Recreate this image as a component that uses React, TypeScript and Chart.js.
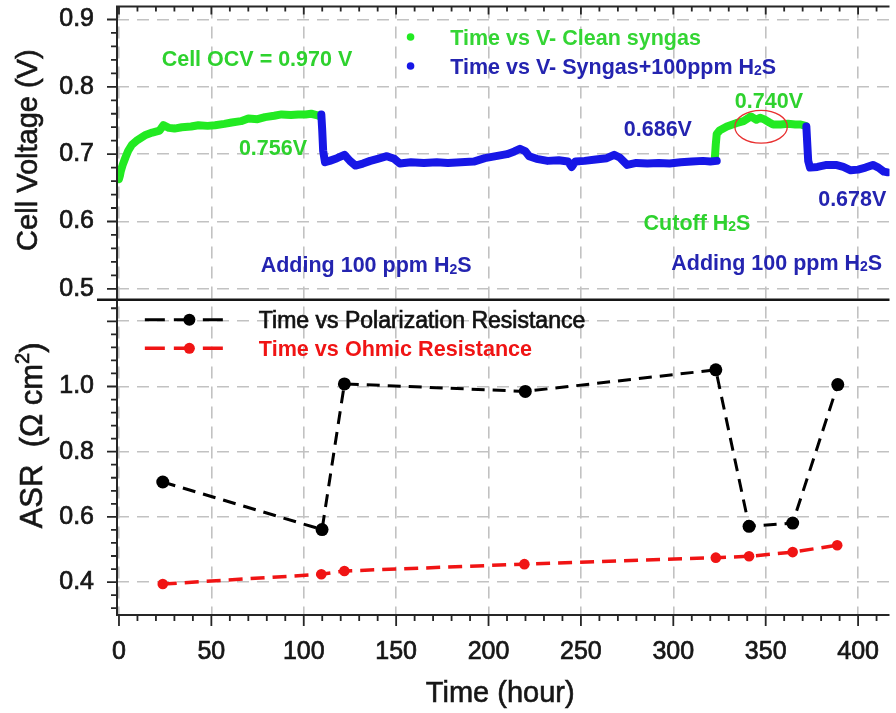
import React, { useEffect, useRef } from 'react';
import { Chart, registerables } from 'chart.js';

Chart.register(...registerables);

// ---------------- data ----------------
// Cell voltage, clean syngas (first period)
const cleanT1 = [0, 0.5, 1, 2, 3.5, 5, 7, 10, 14, 18, 22, 24, 27, 30, 34, 39, 43, 48, 52, 57, 61, 66, 70, 75, 79, 84, 88, 93, 97, 101, 104, 107, 109];
const cleanV1 = [0.663, 0.668, 0.675, 0.684, 0.695, 0.705, 0.714, 0.721, 0.728, 0.732, 0.735, 0.743, 0.739, 0.738, 0.740, 0.741, 0.743, 0.742, 0.743, 0.745, 0.747, 0.749, 0.753, 0.752, 0.755, 0.757, 0.759, 0.758, 0.759, 0.759, 0.760, 0.758, 0.756];
// Cell voltage, syngas + 100 ppm H2S (first period)
const blueT1 = [109.5, 110, 110.5, 111.5, 114, 118, 122, 125, 128, 132, 136, 140, 145, 149, 152, 158, 165, 172, 178, 185, 192, 198, 204, 210, 214, 217, 220, 222, 226, 232, 238, 243, 245, 247, 252, 258, 264, 268, 271, 275, 280, 286, 292, 298, 304, 310, 316, 320, 323.5];
const blueV1 = [0.759, 0.735, 0.705, 0.688, 0.690, 0.694, 0.699, 0.690, 0.683, 0.686, 0.690, 0.693, 0.697, 0.693, 0.686, 0.688, 0.687, 0.688, 0.687, 0.688, 0.689, 0.694, 0.697, 0.700, 0.704, 0.708, 0.704, 0.697, 0.693, 0.690, 0.691, 0.689, 0.681, 0.689, 0.690, 0.692, 0.694, 0.699, 0.695, 0.684, 0.687, 0.686, 0.687, 0.686, 0.688, 0.689, 0.690, 0.689, 0.690];
// Cell voltage, clean syngas (after H2S cut-off)
const cleanT2 = [322.5, 323, 323.5, 325, 329, 334, 338, 342, 345, 347, 349, 352, 354, 358, 362, 366, 369, 371.5];
const cleanV2 = [0.695, 0.715, 0.730, 0.735, 0.741, 0.746, 0.749, 0.756, 0.751, 0.754, 0.752, 0.747, 0.744, 0.744, 0.745, 0.744, 0.744, 0.742];
// Cell voltage, syngas + 100 ppm H2S (second period)
const blueT2 = [372, 372.5, 373, 374, 378, 383, 388, 392, 396, 400, 404, 408, 411, 414, 416];
const blueV2 = [0.741, 0.715, 0.690, 0.680, 0.681, 0.684, 0.684, 0.681, 0.676, 0.677, 0.680, 0.684, 0.680, 0.674, 0.673];

// ASR
const polT = [23.7, 109.9, 122, 219.9, 323, 341, 364.6, 389];
const polR = [0.707, 0.561, 1.008, 0.985, 1.051, 0.571, 0.581, 1.006];
const ohmT = [23.7, 109.5, 122, 219.4, 323, 341, 364.6, 388.7];
const ohmR = [0.394, 0.424, 0.434, 0.455, 0.475, 0.479, 0.492, 0.513];

// ticks
const xTicks = [0, 50, 100, 150, 200, 250, 300, 350, 400];
const vTicks = [0.5, 0.6, 0.7, 0.8, 0.9];
const asrTicks = [0.4, 0.6, 0.8, 1.0, 1.2];
const asrLabelled = ['0.4', '0.6', '0.8', '1.0'];

// ---------------- style ----------------
const FONT = '"Liberation Sans", Arial, Helvetica, sans-serif';
const GREEN_LINE = '#22ea22';
const BLUE_LINE = '#1717e6';
const GREEN_TXT = '#2ed22e';
const BLUE_TXT = '#2424b0';
const RED = '#f01414';
const AXIS = '#262626';
const GRID = '#c2c2c2';
const INK = '#161616';

// annotation anchors (data coordinates of the left / vertical centre of each text)
const NOTES = [
  { t: 23.1, v: 0.843, text: 'Cell OCV = 0.970 V', color: GREEN_TXT },
  { t: 64.9, v: 0.7104, text: '0.756V', color: GREEN_TXT },
  { t: 273.2, v: 0.7385, text: '0.686V', color: BLUE_TXT },
  { t: 333.3, v: 0.7793, text: '0.740V', color: GREEN_TXT },
  { t: 378.4, v: 0.634, text: '0.678V', color: BLUE_TXT },
  { t: 283.9, v: 0.5993, text: 'Cutoff H_{2}S', color: GREEN_TXT },
  { t: 298.9, v: 0.54, text: 'Adding 100 ppm H_{2}S', color: BLUE_TXT },
  { t: 76.7, v: 0.536, text: 'Adding 100 ppm H_{2}S', color: BLUE_TXT },
];

type Seg = { text: string; kind: 'n' | 'sub' | 'sup' };
function parseRich(s: string): Seg[] {
  const out: Seg[] = [];
  const re = /([_^])\{([^}]*)\}/g;
  let last = 0;
  let m: RegExpExecArray | null;
  while ((m = re.exec(s))) {
    if (m.index > last) out.push({ text: s.slice(last, m.index), kind: 'n' });
    out.push({ text: m[2], kind: m[1] === '_' ? 'sub' : 'sup' });
    last = re.lastIndex;
  }
  if (last < s.length) out.push({ text: s.slice(last), kind: 'n' });
  return out;
}

function drawRich(
  ctx: CanvasRenderingContext2D,
  s: string,
  x: number,
  y: number,
  size: number,
  weight: string,
  color: string,
  align: 'left' | 'center' = 'left',
  stroke = 0
) {
  const segs = parseRich(s);
  const f = (k: Seg['kind']) => `${weight} ${k === 'n' ? size : Math.round(size * 0.64)}px ${FONT}`;
  let w = 0;
  for (const g of segs) {
    ctx.font = f(g.kind);
    w += ctx.measureText(g.text).width;
  }
  let cx = align === 'center' ? x - w / 2 : x;
  ctx.fillStyle = color;
  ctx.strokeStyle = color;
  ctx.lineWidth = stroke;
  ctx.textAlign = 'left';
  ctx.textBaseline = 'alphabetic';
  for (const g of segs) {
    ctx.font = f(g.kind);
    const dy = g.kind === 'sub' ? size * 0.06 : g.kind === 'sup' ? -size * 0.42 : 0;
    ctx.fillText(g.text, cx, y + dy);
    if (stroke > 0) ctx.strokeText(g.text, cx, y + dy);
    cx += ctx.measureText(g.text).width;
  }
}

const decor = {
  id: 'decor',
  afterDraw(chart: any) {
    const ctx: CanvasRenderingContext2D = chart.ctx;
    const { left, right, top, bottom } = chart.chartArea;
    const xs = chart.scales.x;
    const yV = chart.scales.yV;
    const yA = chart.scales.yA;
    const px = (t: number) => xs.getPixelForValue(t);
    ctx.save();

    // frame
    ctx.strokeStyle = AXIS;
    ctx.lineWidth = 2;
    ctx.beginPath();
    ctx.moveTo(right, top);
    ctx.lineTo(left, top);
    ctx.lineTo(left, bottom);
    ctx.lineTo(right, bottom);
    ctx.stroke();
    // panel separator
    ctx.lineWidth = 2.6;
    ctx.strokeStyle = '#161616';
    ctx.beginPath();
    ctx.moveTo(left - 20, yV.bottom);
    ctx.lineTo(right, yV.bottom);
    ctx.stroke();

    // x ticks (bottom outward, top inward)
    ctx.strokeStyle = AXIS;
    ctx.lineWidth = 1.8;
    ctx.beginPath();
    for (let t = 0; t <= xs.max; t += 10) {
      const p = px(t);
      const major = t % 50 === 0;
      ctx.moveTo(p, bottom);
      ctx.lineTo(p, bottom + (major ? 11 : 6));
      ctx.moveTo(p, top);
      ctx.lineTo(p, top + (major ? 8 : 5));
    }
    // y ticks, voltage: every 0.02
    for (let k = 20; k <= 50; k++) {
      const v = k / 50;
      if (v < yV.min || v > yV.max) continue;
      const p = yV.getPixelForValue(v);
      ctx.moveTo(left, p);
      ctx.lineTo(left - (k % 5 === 0 ? 10 : 6), p);
    }
    // y ticks, ASR: every 0.04
    for (let k = 7; k <= 32; k++) {
      const v = k / 25;
      if (v < yA.min || v > yA.max) continue;
      const p = yA.getPixelForValue(v);
      ctx.moveTo(left, p);
      ctx.lineTo(left - (k % 5 === 0 ? 10 : 6), p);
    }
    ctx.stroke();

    // annotations
    const NS = 21.5;
    for (const n of NOTES) {
      drawRich(ctx, n.text, px(n.t), yV.getPixelForValue(n.v) + NS * 0.36, NS, 'bold', n.color);
    }

    // red ellipse
    ctx.strokeStyle = '#e83030';
    ctx.lineWidth = 1.3;
    ctx.beginPath();
    const ecx = px(347.5);
    const ecy = yV.getPixelForValue(0.7407);
    const erx = px(347.5 + 14.2) - ecx;
    const ery = yV.getPixelForValue(0.7407) - yV.getPixelForValue(0.7407 + 0.0244);
    ctx.ellipse(ecx, ecy, erx, ery, 0, 0, Math.PI * 2);
    ctx.stroke();

    // top legend
    const LS = 21.5;
    const legTop = [
      { v: 0.874, text: 'Time vs V- Clean syngas', dot: GREEN_LINE, color: '#34d534' },
      { v: 0.831, text: 'Time vs V- Syngas+100ppm H_{2}S', dot: BLUE_LINE, color: BLUE_TXT },
    ];
    for (const l of legTop) {
      const y = yV.getPixelForValue(l.v);
      ctx.fillStyle = l.dot;
      ctx.beginPath();
      ctx.arc(px(157.8), y, 3.8, 0, Math.PI * 2);
      ctx.fill();
      drawRich(ctx, l.text, px(179.3), y + LS * 0.36, LS, 'bold', l.color);
    }

    // bottom legend
    const legBot = [
      { a: 1.205, text: 'Time vs Polarization Resistance', color: '#000', txt: '#111', w: 'normal', size: 23, r: 6, lw: 3, st: 0.7 },
      { a: 1.117, text: 'Time vs Ohmic Resistance', color: RED, txt: RED, w: 'bold', size: 21.6, r: 5.5, lw: 3.5, st: 0 },
    ];
    for (const l of legBot) {
      const y = yA.getPixelForValue(l.a);
      ctx.strokeStyle = l.color;
      ctx.lineWidth = l.lw;
      ctx.setLineDash([20, 9]);
      ctx.beginPath();
      ctx.moveTo(px(14), y);
      ctx.lineTo(px(58.5), y);
      ctx.stroke();
      ctx.setLineDash([]);
      ctx.fillStyle = l.color;
      ctx.beginPath();
      ctx.arc(px(38.1), y, l.r, 0, Math.PI * 2);
      ctx.fill();
      drawRich(ctx, l.text, px(75.7), y + l.size * 0.36, l.size, l.w, l.txt, 'left', l.st);
    }

    // axis titles
    ctx.save();
    ctx.translate(37, (yV.top + yV.bottom) / 2 - 3);
    ctx.rotate(-Math.PI / 2);
    drawRich(ctx, 'Cell Voltage (V)', 0, 0, 29, 'normal', INK, 'center', 0.6);
    ctx.restore();
    ctx.save();
    ctx.translate(42, (yA.top + yA.bottom) / 2 - 22);
    ctx.rotate(-Math.PI / 2);
    drawRich(ctx, 'ASR  (Ω cm^{2})', 0, 0, 31, 'normal', INK, 'center', 0.6);
    ctx.restore();
    drawRich(ctx, 'Time (hour)', (left + right) / 2 - 3, 702, 29, 'normal', INK, 'center', 0.6);

    ctx.restore();
  },
};

export default function App() {
  const ref = useRef<HTMLCanvasElement>(null);
  useEffect(() => {
    const canvas = ref.current;
    if (!canvas) return;
    const pts = (xs: number[], ys: number[]) => xs.map((x, i) => ({ x, y: ys[i] }));
    const volt = (label: string, xs: number[], ys: number[], color: string) => ({
      label,
      data: pts(xs, ys),
      yAxisID: 'yV',
      borderColor: color,
      backgroundColor: color,
      borderWidth: 8,
      pointRadius: 0,
      tension: 0,
      borderCapStyle: 'round',
      borderJoinStyle: 'round',
      fill: false,
    });
    const tickFont = { family: FONT, size: 25 };
    const tickStyle = { font: tickFont, color: INK, textStrokeColor: INK, textStrokeWidth: 0.7, autoSkip: false };
    const noPad = (s: any) => {
      s.paddingTop = 0;
      s.paddingBottom = 0;
      s.paddingLeft = 0;
      s.paddingRight = 0;
    };
    const chart = new Chart(canvas, {
      type: 'line',
      data: {
        datasets: [
          volt('Time vs V- Syngas+100ppm H2S', blueT1, blueV1, BLUE_LINE),
          volt('Time vs V- Syngas+100ppm H2S (2)', blueT2, blueV2, BLUE_LINE),
          volt('Time vs V- Clean syngas', cleanT1, cleanV1, GREEN_LINE),
          volt('Time vs V- Clean syngas (2)', cleanT2, cleanV2, GREEN_LINE),
          {
            label: 'Time vs Polarization Resistance',
            data: pts(polT, polR),
            yAxisID: 'yA',
            borderColor: '#000',
            backgroundColor: '#000',
            borderWidth: 3,
            borderDash: [13, 8],
            pointRadius: 6.5,
            pointBorderWidth: 0,
            pointBackgroundColor: '#000',
            tension: 0,
            fill: false,
          },
          {
            label: 'Time vs Ohmic Resistance',
            data: pts(ohmT, ohmR),
            yAxisID: 'yA',
            borderColor: RED,
            backgroundColor: RED,
            borderWidth: 3.5,
            borderDash: [14, 8],
            pointRadius: 5.3,
            pointBorderWidth: 0,
            pointBackgroundColor: RED,
            tension: 0,
            fill: false,
          },
        ] as any,
      },
      options: {
        responsive: false,
        animation: false,
        devicePixelRatio: 1,
        events: [],
        layout: { padding: { top: 5, left: 0, right: 0, bottom: 0 } },
        plugins: { legend: { display: false }, tooltip: { enabled: false } },
        scales: {
          x: {
            type: 'linear',
            min: -1.07,
            max: 417,
            afterBuildTicks: (s: any) => {
              s.ticks = xTicks.map((value) => ({ value }));
            },
            afterFit: (s: any) => {
              s.height = 98;
              noPad(s);
            },
            grid: { color: GRID, lineWidth: 1.6, drawTicks: false },
            border: { display: false, dash: [12, 8] },
            ticks: { ...tickStyle, padding: 22, maxRotation: 0 },
          },
          yA: {
            type: 'linear',
            position: 'left',
            stack: 'panels',
            stackWeight: 316,
            min: 0.299,
            max: 1.266,
            afterBuildTicks: (s: any) => {
              s.ticks = asrTicks.map((value) => ({ value }));
            },
            afterFit: (s: any) => {
              s.width = 117;
              noPad(s);
            },
            grid: { color: GRID, lineWidth: 1.6, drawTicks: false },
            border: { display: false, dash: [12, 8] },
            ticks: {
              ...tickStyle,
              padding: 23,
              callback: (v: any) => {
                const s = Number(v).toFixed(1);
                return asrLabelled.includes(s) ? s : '';
              },
            },
          },
          yV: {
            type: 'linear',
            position: 'left',
            stack: 'panels',
            stackWeight: 294,
            min: 0.4837,
            max: 0.9193,
            afterBuildTicks: (s: any) => {
              s.ticks = vTicks.map((value) => ({ value }));
            },
            afterFit: (s: any) => {
              s.width = 117;
              noPad(s);
            },
            grid: { color: GRID, lineWidth: 1.6, drawTicks: false },
            border: { display: false, dash: [12, 8] },
            ticks: {
              ...tickStyle,
              padding: 23,
              callback: (v: any) => Number(v).toFixed(1),
            },
          },
        } as any,
      },
      plugins: [decor],
    });
    return () => chart.destroy();
  }, []);

  return (
    <div style={{ position: 'fixed', left: 0, top: 0, width: 896, height: 713, background: '#fff' }}>
      <canvas ref={ref} width={896} height={713} style={{ width: 896, height: 713, display: 'block' }} />
    </div>
  );
}
